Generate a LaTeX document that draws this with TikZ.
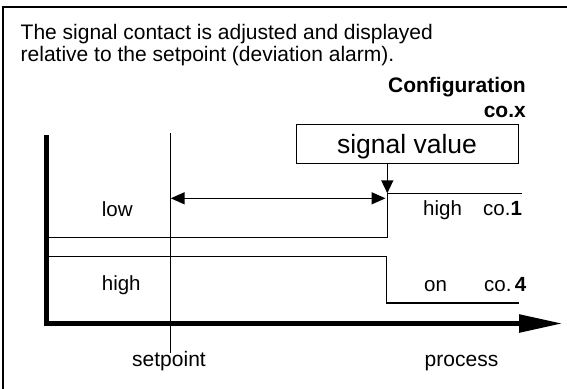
\documentclass[tikz,border=0pt]{standalone}
\usepackage{fontspec}
\setmainfont{Liberation Sans}
\usetikzlibrary{arrows.meta}
\begin{document}
\begin{tikzpicture}[x=1pt,y=-1pt,
  frame/.style={line width=1.5pt},
  thinline/.style={line width=1.5pt},
  axisline/.style={line width=5.5pt, line join=miter, line cap=butt},
  txt/.style={inner sep=0pt, anchor=base west, font=\fontsize{21}{25}\selectfont},
  lbl/.style={inner sep=0pt, anchor=base west, font=\fontsize{20.5}{24}\selectfont},
  clbl/.style={inner sep=0pt, anchor=base, font=\fontsize{21}{25}\selectfont},
  conf/.style={inner sep=0pt, anchor=base east, font=\fontsize{21}{25}\selectfont\bfseries},
  svbox/.style={draw, line width=1.5pt, inner sep=0pt, minimum width=221.6pt, minimum height=38.8pt},
  svtext/.style={inner sep=0pt, anchor=base, font=\fontsize{26.5}{30}\selectfont},
  small/.style={-{Triangle[length=13pt,width=12pt]}},
  dbl/.style={{Triangle[length=14pt,width=12pt]}-{Triangle[length=14pt,width=12pt]}}
]
\useasboundingbox (0,0) rectangle (567,388);
% frame
\draw[frame] (3,392) -- (3,7) -- (571,7);
% texts
\node[txt] (intro1) at (20.5,39.3) {The signal contact is adjusted and displayed};
\node[txt] (intro2) at (20.5,61) {relative to the setpoint (deviation alarm).};
\node[conf] (confa) at (526,92) {Configuration};
\node[conf] (confb) at (526,117) {co.x};
% signal value box
\node[svbox] (sv) at (407.5,143.9) {};
\node[svtext] (svt) at (407,153) {signal value};
% axes
\coordinate (ytop) at (46.5,135);
\coordinate (orig) at (46.5,323.5);
\coordinate (xend) at (563,323.5);
\draw[axisline, -{Triangle[length=44pt,width=17pt]}] (ytop) -- (orig) -- (xend);
% setpoint line
\coordinate (sptop) at (170.7,133);
\coordinate (spbot) at (170.7,353);
\draw[thinline] (sptop) -- (spbot);
% switching lines
\coordinate (la) at (49,237.7);
\coordinate (lb) at (387.3,237.7);
\coordinate (lc) at (387.3,193.3);
\coordinate (ld) at (522,193.3);
\draw[thinline] (la) -- (lb) -- (lc) -- (ld);
\coordinate (ma) at (49,256.7);
\coordinate (mb) at (386.5,256.7);
\coordinate (mc) at (386.5,303);
\coordinate (md) at (519,303);
\draw[thinline] (ma) -- (mb) -- (mc) -- (md);
% signal value arrow
\draw[thinline, small] (sv.south -| lc) -- (lc);
% deviation double arrow
\coordinate (da) at (170.7,198.3);
\coordinate (db) at (385.5,198.3);
\draw[thinline, dbl] (da) -- (db);
% labels
\node[lbl] (low) at (101.7,216) {low};
\node[lbl] (highl) at (101.7,290.7) {high};
\node[lbl] (highr) at (423,215.7) {high};
\node[lbl] (co1) at (483,215.7) {co.\textbf{1}};
\node[lbl] (on) at (424,291.5) {on};
\node[lbl] (co4) at (484,291.5) {co.\,\textbf{4}};
\node[clbl] (setp) at (169,366.7) {setpoint};
\node[clbl] (proc) at (461.5,366.7) {process};
\end{tikzpicture}
\end{document}
